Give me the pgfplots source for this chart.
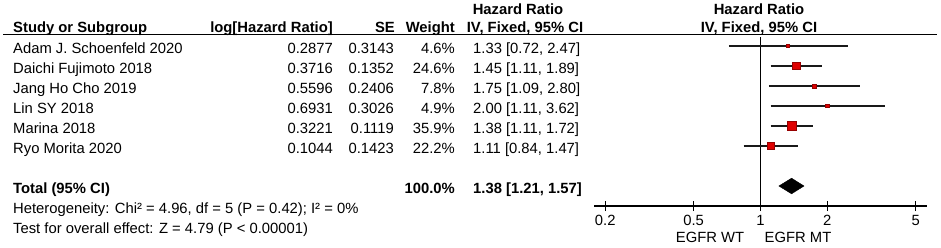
\documentclass[border=0pt]{standalone}
\usepackage{fontspec}
\setmainfont{Liberation Sans}
\usepackage{pgfplots}
\pgfplotsset{compat=1.18}
\definecolor{sqfill}{RGB}{222,0,0}
\definecolor{sqdraw}{RGB}{150,0,0}
\begin{document}
\begin{tikzpicture}[every node/.style={font=\fontsize{14.8}{17}\selectfont, inner sep=0pt}]
\path[use as bounding box] (0,0) rectangle (941pt,-247pt);
% header
\node[anchor=base west] at (13pt,-32pt) {\bfseries Study or Subgroup};
\node[anchor=base east] at (333pt,-32pt) {\bfseries log[Hazard Ratio]};
\node[anchor=base east] at (395pt,-32pt) {\bfseries SE};
\node[anchor=base east] at (455pt,-32pt) {\bfseries Weight};
\node[anchor=base] at (518pt,-14pt) {\bfseries Hazard Ratio};
\node[anchor=base] at (525pt,-32pt) {\bfseries IV, Fixed, 95\% CI};
\node[anchor=base] at (759pt,-14pt) {\bfseries Hazard Ratio};
\node[anchor=base] at (759pt,-32pt) {\bfseries IV, Fixed, 95\% CI};
\draw[line width=1.2pt] (3pt,-34.5pt) -- (937pt,-34.5pt);
% rows
\foreach \y/\n/\l/\s/\w/\h in {
 46/Adam J. Schoenfeld 2020/0.2877/0.3143/4.6\%/{1.33 [0.72, 2.47]},
 66/Daichi Fujimoto 2018/0.3716/0.1352/24.6\%/{1.45 [1.11, 1.89]},
 86/Jang Ho Cho 2019/0.5596/0.2406/7.8\%/{1.75 [1.09, 2.80]},
 106/Lin SY 2018/0.6931/0.3026/4.9\%/{2.00 [1.11, 3.62]},
 126/Marina 2018/0.3221/0.1119/35.9\%/{1.38 [1.11, 1.72]},
 146/Ryo Morita 2020/0.1044/0.1423/22.2\%/{1.11 [0.84, 1.47]}}{
 \node[anchor=base west] at (13pt,-\y pt-7.5pt) {\n};
 \node[anchor=base east] at (333pt,-\y pt-7.5pt) {\l};
 \node[anchor=base east] at (394pt,-\y pt-7.5pt) {\s};
 \node[anchor=base east] at (455pt,-\y pt-7.5pt) {\w};
 \node[anchor=base west] at (473pt,-\y pt-7.5pt) {\h};
}
\node[anchor=base west] at (13pt,-193.5pt) {\bfseries Total (95\% CI)};
\node[anchor=base east] at (455pt,-193.5pt) {\bfseries 100.0\%};
\node[anchor=base west] at (473pt,-193.5pt) {\bfseries 1.38 [1.21, 1.57]};
\node[anchor=base west] at (13pt,-213.5pt) {Heterogeneity: Chi² = 4.96, df = 5 (P = 0.42); I² = 0\%};
\node[anchor=base west] at (13pt,-233pt) {Test for overall effect: Z = 4.79 (P < 0.00001)};
\node[anchor=base] at (710pt,-242pt) {EGFR WT};
\node[anchor=base] at (798pt,-242pt) {EGFR MT};
\begin{axis}[
  at={(594pt,-206pt)}, anchor=south west,
  scale only axis, width=333pt, height=169pt,
  xmode=log, xmin=0.178, xmax=5.62,
  ymin=-206, ymax=-37,
  axis x line*=bottom, axis y line=none,
  axis line style={line width=1.1pt},
  xtick={0.2,0.5,1,2,5}, xticklabels={},
  minor xtick={},
  tick align=center, major tick length=10pt,
  tick style={black, line width=1.1pt},
  clip=false,
  ci/.style={line width=1.1pt, color=black!90},
  sq/.style={only marks, mark=square*, mark options={fill=sqfill, draw=sqdraw, line width=0.5pt}},
]
\addplot[black, line width=1.1pt] coordinates {(1,-37) (1,-206)};
\addplot[ci] coordinates {(0.72,-46) (2.47,-46)};
\addplot[ci] coordinates {(1.11,-66) (1.89,-66)};
\addplot[ci] coordinates {(1.09,-86) (2.80,-86)};
\addplot[ci] coordinates {(1.11,-106) (3.62,-106)};
\addplot[ci] coordinates {(1.11,-126) (1.72,-126)};
\addplot[ci] coordinates {(0.84,-146) (1.47,-146)};
\addplot[sq, mark size=1.6pt] coordinates {(1.33,-46)};
\addplot[sq, mark size=3.6pt] coordinates {(1.45,-66)};
\addplot[sq, mark size=2.1pt] coordinates {(1.75,-86)};
\addplot[sq, mark size=1.7pt] coordinates {(2.00,-106)};
\addplot[sq, mark size=4.6pt] coordinates {(1.38,-126)};
\addplot[sq, mark size=3.5pt] coordinates {(1.11,-146)};
\addplot[fill=black, draw=black] coordinates {(1.21,-186) (1.38,-178.2) (1.57,-186) (1.38,-193.8)} -- cycle;
\foreach \t in {0.2,0.5,1,2,5}{
  \edef\temp{\noexpand\node[anchor=base] at (axis cs:\t,-225) {\t};}
  \temp
}
\end{axis}
\end{tikzpicture}
\end{document}
